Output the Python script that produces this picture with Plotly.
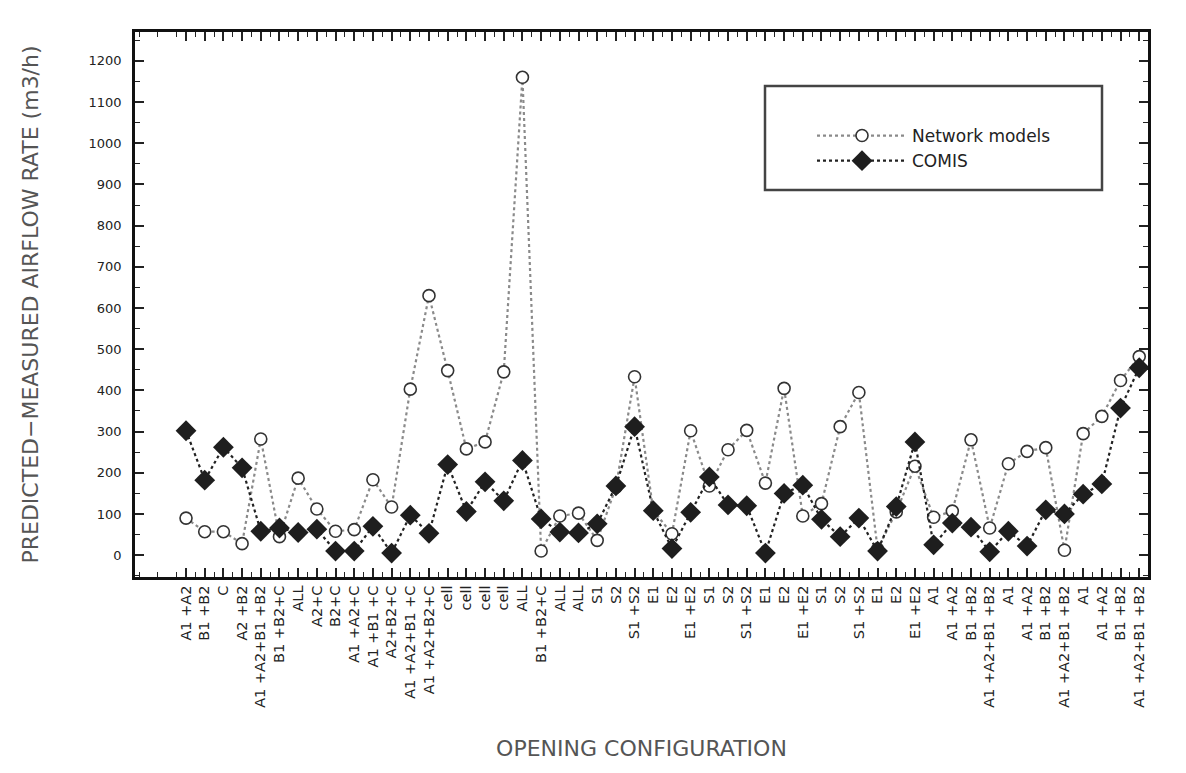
import plotly.graph_objects as go

# Opening configurations, in test order
configs = [
    "A1 +A2", "B1 +B2", "C", "A2 +B2", "A1 +A2+B1 +B2", "B1 +B2+C", "ALL",
    "A2+C", "B2+C", "A1 +A2+C", "A1 +B1 +C", "A2+B2+C", "A1 +A2+B1 +C",
    "A1 +A2+B2+C", "cell", "cell", "cell", "cell", "ALL", "B1 +B2+C", "ALL",
    "ALL", "S1", "S2", "S1 +S2", "E1", "E2", "E1 +E2", "S1", "S2", "S1 +S2",
    "E1", "E2", "E1 +E2", "S1", "S2", "S1 +S2", "E1", "E2", "E1 +E2",
    "A1", "A1 +A2", "B1 +B2", "A1 +A2+B1 +B2",
    "A1", "A1 +A2", "B1 +B2", "A1 +A2+B1 +B2",
    "A1", "A1 +A2", "B1 +B2", "A1 +A2+B1 +B2",
]

# Predicted minus measured airflow rate (m3/h)
network_models = [
    90, 57, 57, 28, 282, 45, 187, 112, 58, 62, 183, 117, 403, 630,
    448, 258, 275, 445, 1160, 10, 95, 102, 36, 165, 433, 108, 52, 302,
    168, 256, 303, 175, 405, 95, 125, 312, 395, 15, 105, 216,
    92, 107, 280, 66, 222, 252, 261, 12, 295, 337, 424, 482,
]
comis = [
    302, 182, 262, 212, 58, 66, 55, 63, 10, 10, 70, 5, 97, 53,
    220, 106, 178, 132, 230, 88, 56, 54, 76, 168, 312, 108, 16, 104,
    190, 122, 120, 5, 150, 170, 87, 45, 90, 10, 118, 275,
    25, 78, 68, 8, 58, 22, 110, 100, 148, 173, 357, 455,
]

y_ticks = list(range(0, 1300, 100))

idx = list(range(len(configs)))

fig = go.Figure()

fig.add_trace(go.Scatter(
    x=idx, y=network_models, name="Network models", mode="lines+markers",
    line=dict(color="#8a8a8a", width=2.2, dash="dot"),
    marker=dict(symbol="circle", size=12, color="white",
                line=dict(color="#333333", width=1.6)),
))
fig.add_trace(go.Scatter(
    x=idx, y=comis, name="COMIS", mode="lines+markers",
    line=dict(color="#222222", width=2.2, dash="dot"),
    marker=dict(symbol="diamond", size=16, color="#1e1e1e",
                line=dict(color="#1e1e1e", width=0)),
))

W, H = 1186, 773
L, R, T, B = 135, 38, 32, 196
pw, ph = W - L - R, H - T - B


def px_x(v):
    return (v - L) / pw


def px_y(v):
    return (H - B - v) / ph


# legend frame
fig.add_shape(type="rect", xref="paper", yref="paper",
              x0=px_x(765), x1=px_x(1102), y0=px_y(190), y1=px_y(86),
              line=dict(color="#444444", width=2.5), fillcolor="white",
              layer="below")

fig.update_layout(
    width=W, height=H,
    margin=dict(l=L, r=R, t=T, b=B, autoexpand=False),
    paper_bgcolor="white", plot_bgcolor="white",
    font=dict(family="DejaVu Sans", color="#222222"),
    showlegend=True,
    legend=dict(x=px_x(812), y=px_y(118), xanchor="left", yanchor="top",
                bgcolor="rgba(0,0,0,0)", borderwidth=0,
                font=dict(size=17, family="DejaVu Sans", color="#222"),
                itemwidth=90, tracegroupgap=0),
)

fig.update_xaxes(
    range=[-2.73, 51.47], automargin=False,
    tickmode="array", tickvals=idx, ticktext=configs, tickangle=-90,
    tickfont=dict(size=14.5, family="DejaVu Sans", color="#222"),
    ticks="inside", ticklen=9, tickwidth=1.5, tickcolor="#222",
    minor=dict(ticks="inside", dtick=1, tick0=0.5, ticklen=5,
               tickwidth=1.2, tickcolor="#222"),
    showline=True, linecolor="#111", linewidth=2.5, mirror="allticks",
    showgrid=False, zeroline=False,
    title=dict(text="OPENING CONFIGURATION", standoff=34,
               font=dict(size=22, family="DejaVu Sans", color="#555")),
)
fig.update_yaxes(
    range=[-53, 1270], automargin=False,
    tickmode="array", tickvals=y_ticks,
    tickfont=dict(size=13, family="DejaVu Sans", color="#222"),
    ticks="inside", ticklen=9, tickwidth=1.5, tickcolor="#222",
    minor=dict(ticks="inside", dtick=50, tick0=0, ticklen=5,
               tickwidth=1.2, tickcolor="#222"),
    showline=True, linecolor="#111", linewidth=2.5, mirror="allticks",
    showgrid=False, zeroline=False, ticklabelstandoff=8,
    title=dict(text="PREDICTED\u2212MEASURED AIRFLOW RATE (m3/h)", standoff=44,
               font=dict(size=22, family="DejaVu Sans", color="#555")),
)

fig.write_html("out.html")
